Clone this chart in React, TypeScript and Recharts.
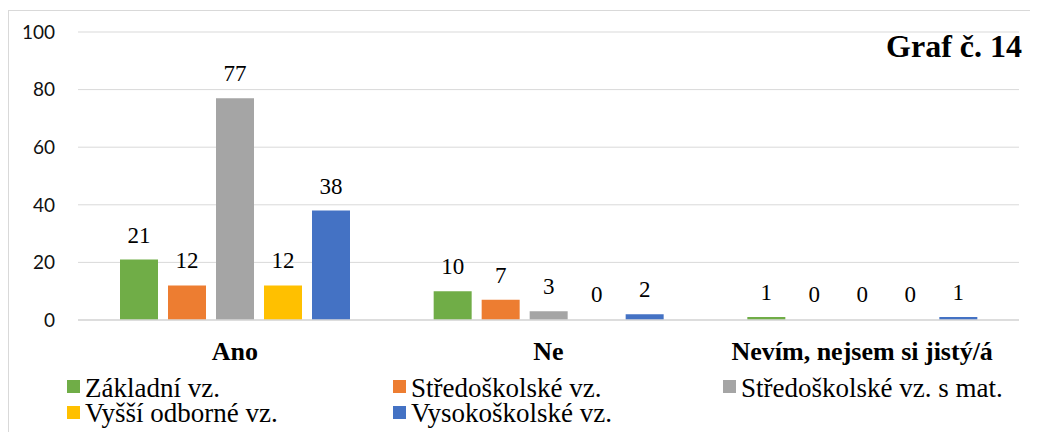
import { BarChart, Bar, XAxis, YAxis, CartesianGrid, LabelList, Rectangle } from 'recharts';

const categories = ['Ano', 'Ne', 'Nevím, nejsem si jistý/á'];
const seriesNames = [
  'Základní vz.',
  'Středoškolské vz.',
  'Středoškolské vz. s mat.',
  'Vyšší odborné vz.',
  'Vysokoškolské vz.',
];
const zakladni = [21, 10, 1];
const stredoskolske = [12, 7, 0];
const stredoskolskeMat = [77, 3, 0];
const vyssiOdborne = [12, 0, 0];
const vysokoskolske = [38, 2, 1];
const yTicks = [0, 20, 40, 60, 80, 100];
const minorTicks = [4, 8, 12, 16, 24, 28, 32, 36, 44, 48, 52, 56, 64, 68, 72, 76, 84, 88, 92, 96];

const colors = ['#70ad47', '#ed7d31', '#a5a5a5', '#ffc000', '#4472c4'];
const serif = '"Liberation Serif", "Times New Roman", serif';
const sans = 'Lato, "Open Sans", sans-serif';

const seriesValues = [zakladni, stredoskolske, stredoskolskeMat, vyssiOdborne, vysokoskolske];
const data = categories.map((category, i) => {
  const row: Record<string, string | number> = { category };
  seriesValues.forEach((vals, s) => {
    row['s' + s] = vals[i];
  });
  return row;
});

function CategoryTick(props: any) {
  const { x, y, payload } = props;
  return (
    <text x={x} y={y} textAnchor="middle" fontFamily={serif} fontWeight="bold" fontSize={26} fill="#000">
      {payload.value}
    </text>
  );
}

// zero values keep a 1px placeholder so their label is still drawn, but the bar itself is hidden
function BarShape(props: any) {
  const v = Array.isArray(props.value) ? props.value[1] - props.value[0] : props.value;
  if (!v) return <g />;
  return <Rectangle {...props} />;
}

export default function App() {
  return (
    <div
      style={{
        position: 'relative',
        top: 2,
        width: 1040,
        height: 430,
        border: '1px solid #d9d9d9',
        boxSizing: 'border-box',
        background: '#fff',
      }}
    >
      <BarChart
        width={1029}
        height={418}
        data={data}
        margin={{ top: 21, right: 19, left: 0, bottom: 59 }}
        barSize={38}
        barGap={10}
      >
        <CartesianGrid
          vertical={false}
          stroke="#efefef"
          horizontalCoordinatesGenerator={({ yAxis }: any) =>
            yAxis && typeof yAxis.scale === 'function' ? minorTicks.map((v) => yAxis.scale(v)) : []
          }
        />
        <CartesianGrid vertical={false} stroke="#d9d9d9" />
        <XAxis
          dataKey="category"
          height={50}
          tickSize={0}
          tickMargin={40}
          tickLine={false}
          axisLine={{ stroke: '#d9d9d9', strokeWidth: 1.5 }}
          tick={<CategoryTick />}
        />
        <YAxis
          width={69}
          domain={[0, 100]}
          ticks={yTicks}
          tickSize={0}
          tickMargin={23}
          tickLine={false}
          axisLine={false}
          tick={{ fontFamily: sans, fontSize: 19, fill: '#111' }}
        />
        {seriesNames.map((name, s) => (
          <Bar
            key={name}
            dataKey={'s' + s}
            name={name}
            fill={colors[s]}
            minPointSize={1}
            shape={<BarShape />}
            isAnimationActive={false}
          >
            <LabelList
              dataKey={'s' + s}
              position="top"
              offset={17}
              fill="#000"
              fontFamily={serif}
              fontSize={23}
            />
          </Bar>
        ))}
      </BarChart>

      <div
        style={{
          position: 'absolute',
          left: 0,
          top: 19,
          width: 1013,
          textAlign: 'right',
          fontFamily: serif,
          fontWeight: 'bold',
          fontSize: 32,
          lineHeight: '32px',
          color: '#000',
          whiteSpace: 'nowrap',
        }}
      >
        Graf č. 14
      </div>

      {seriesNames.map((name, i) => {
        const colLeft = [58, 384, 714][i % 3];
        const row = Math.floor(i / 3);
        return (
          <div key={name}>
            <span
              style={{
                position: 'absolute',
                left: colLeft,
                top: 369 + row * 26,
                width: 13,
                height: 13,
                background: colors[i],
              }}
            />
            <span
              style={{
                position: 'absolute',
                left: colLeft + 18,
                top: 366 + row * 25,
                fontFamily: serif,
                fontSize: 27,
                lineHeight: '22px',
                color: '#000',
                whiteSpace: 'nowrap',
              }}
            >
              {name}
            </span>
          </div>
        );
      })}
    </div>
  );
}
